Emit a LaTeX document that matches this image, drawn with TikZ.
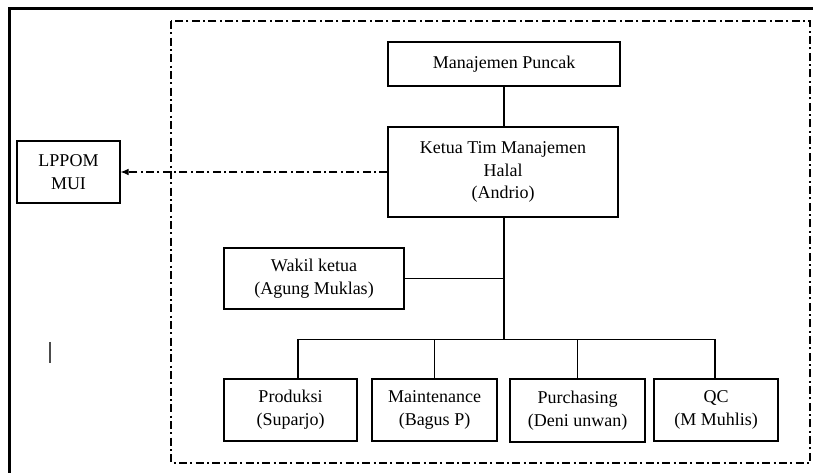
\documentclass[tikz,border=0pt]{standalone}
\usepackage{fontspec}
\setmainfont{Liberation Serif}
\usetikzlibrary{arrows.meta,calc}
\begin{document}
\begin{tikzpicture}[x=0.75pt,y=-0.75pt,
  box/.style={draw,line width=0.9pt,inner sep=0pt,align=center,
    font=\fontsize{13.5}{17}\selectfont},
  conn/.style={line width=0.9pt},
  dashdot/.style={line width=0.8pt,dash pattern=on 6pt off 2.5pt on 1.5pt off 2.5pt}]
\useasboundingbox (0,0) rectangle (813,473);
% outer thick border (left and top)
\draw[line width=2.4pt] (9.5,473) -- (9.5,8.5) -- (813,8.5);
% dash-dot frame
\draw[dashdot] (171,21) rectangle (810,463);
% nodes
\node[box,minimum width=174pt,minimum height=33pt] (top) at (504,64) {Manajemen Puncak};
\node[box,minimum width=172.5pt,minimum height=67.5pt] (ketua) at (503,172) {Ketua Tim Manajemen\\Halal\\(Andrio)};
\node[box,minimum width=77.25pt,minimum height=46.5pt] (lppom) at (68.5,172) {LPPOM\\MUI};
\node[box,minimum width=135pt,minimum height=45.75pt] (wakil) at (314,278.5) {Wakil ketua\\(Agung Muklas)};
\node[box,minimum width=99.75pt,minimum height=46.5pt] (prod) at (290.5,410) {Produksi\\(Suparjo)};
\node[box,minimum width=93.75pt,minimum height=46.5pt] (maint) at (434.5,410) {Maintenance\\(Bagus P)};
\node[box,minimum width=101.25pt,minimum height=47.25pt] (purch) at (577.5,410.5) {Purchasing\\(Deni unwan)};
\node[box,minimum width=93pt,minimum height=46.5pt] (qc) at (716,410) {QC\\(M Muhlis)};
% connectors
\coordinate (bus) at (504,340);
\coordinate (busL) at ($(prod.north)+(7.5,-39)$);
\coordinate (busR) at ($(qc.north)+(-1,-39)$);
\draw[conn] (top.south) -- (top.south |- ketua.north);
\draw[conn] (ketua.south -| top.south) -- (bus);
\draw[conn] (wakil.east) -- (wakil.east -| bus);
\draw[conn] (busL) -- (busR);
\draw[conn] (busL) -- (busL |- prod.north);
\draw[conn] (maint.north |- busL) -- (maint.north);
\draw[conn] (purch.north |- busL) -- (purch.north);
\draw[conn] (busR) -- (busR |- qc.north);
\draw[dashdot,-{Latex[length=6pt,width=5pt]}] (ketua.west) -- (lppom.east);
% text cursor mark
\draw[line width=0.9pt,gray!60!black] (50,342) -- (50,363);
\end{tikzpicture}
\end{document}
